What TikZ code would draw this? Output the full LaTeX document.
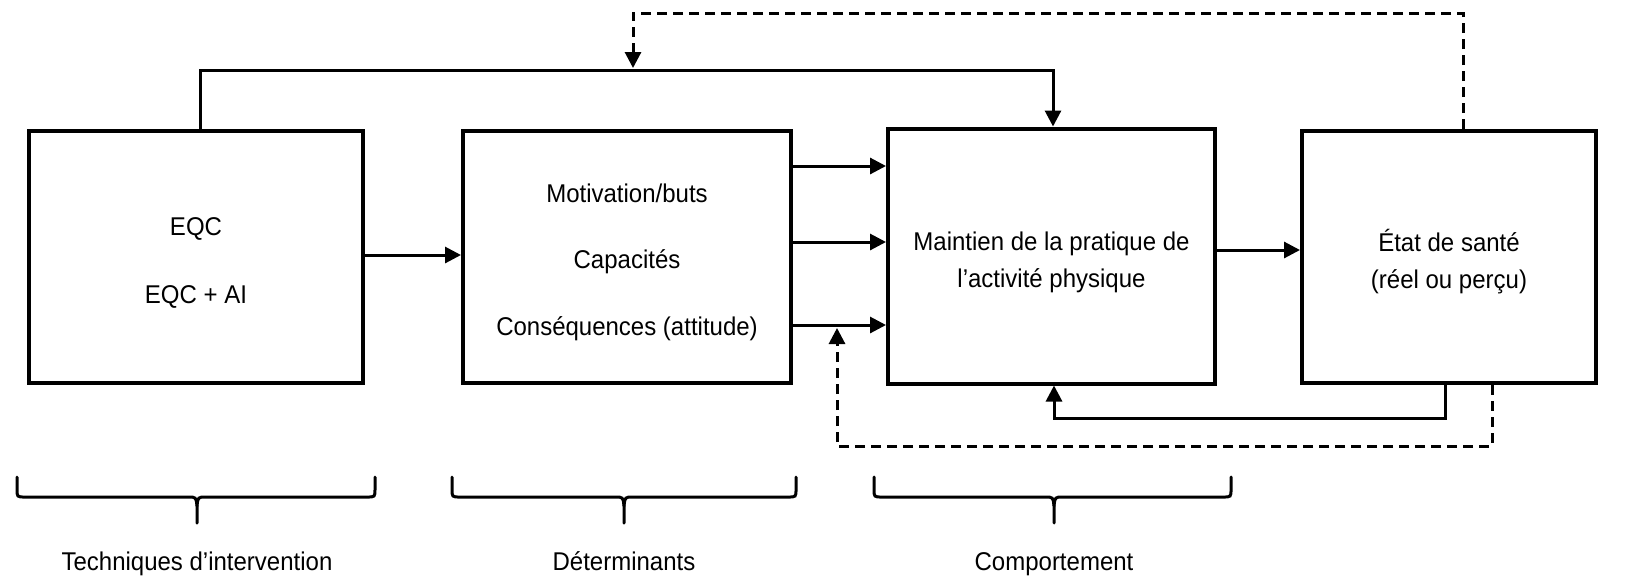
\documentclass[tikz,border=0pt]{standalone}
\usepackage{fontspec}
\usepackage{graphicx}
\setmainfont{Liberation Sans}
\usetikzlibrary{arrows.meta}
\newcommand{\vtext}[2]{\raisebox{#1}[\height][\depth]{\scalebox{1}[1.07]{\begin{tabular}{@{}c@{}}#2\end{tabular}}}}
\begin{document}
\begin{tikzpicture}[x=0.5pt,y=-0.5pt,
  box/.style={draw,line width=2pt,minimum height=126pt,inner sep=0pt,align=center,
    font=\fontsize{12}{19}\selectfont},
  conn/.style={line width=1.5pt,-{Triangle[length=8pt,width=8pt]}},
  dconn/.style={conn,dash pattern=on 5pt off 3pt},
  brace/.style={line width=1.5pt,line cap=round},
  lbl/.style={font=\fontsize{12}{14}\selectfont,inner sep=0pt}]
\useasboundingbox (0,0) rectangle (1625,580);
% boxes
\node[box,minimum width=167pt] (b1) at (196,257) {\vtext{-2.2pt}{EQC\\[12.5pt]EQC + AI}};
\node[box,minimum width=164pt] (b2) at (627,257) {\vtext{-1.8pt}{Motivation/buts\\[12pt]Capacités\\[12pt]Conséquences (attitude)}};
\node[box,minimum width=163.5pt,minimum height=127.5pt] (b3) at (1051.5,256) {\vtext{-2.5pt}{Maintien de la pratique de\\[-1.7pt]l’activité physique}};
\node[box,minimum width=147pt] (b4) at (1449,257) {\vtext{-2.5pt}{État de santé\\[-1.7pt](réel ou perçu)}};
% coordinates
\coordinate (t1) at (200,70);
\coordinate (t2) at (1053,70);
\coordinate (d1) at (1463,13);
\coordinate (d2) at (633,13);
\coordinate (d3) at (633,68);
\coordinate (s1) at (1445,418);
\coordinate (s2) at (1054,418);
\coordinate (e1) at (1492,446);
\coordinate (e2) at (837,446);
\coordinate (e3) at (837,328);
% connectors
\draw[conn] (b1.north -| t1) -- (t1) -- (t2) -- (b3.north -| t2);
\draw[dconn] (b4.north -| d1) -- (d1) -- (d2) -- (d3);
\draw[conn] (b1.east |- 0,255) -- (b2.west |- 0,255);
\draw[conn] (b2.east |- 0,166) -- (b3.west |- 0,166);
\draw[conn] (b2.east |- 0,242) -- (b3.west |- 0,242);
\draw[conn] (b2.east |- 0,325) -- (b3.west |- 0,325);
\draw[conn] (b3.east |- 0,250) -- (b4.west |- 0,250);
\draw[conn] (b4.south -| s1) -- (s1) -- (s2) -- (b3.south -| s2);
\draw[dconn] (b4.south -| e1) -- (e1) -- (e2) -- (e3);
% braces
\foreach \xa/\xb/\xm in {17/375/197, 452/796/624, 874/1231/1054}{
  \draw[brace] (\xa,477) -- (\xa,489) .. controls (\xa,497) .. (\xa+8,497) -- (\xm-9,497)
     .. controls (\xm-1,497) .. (\xm,506) -- (\xm,523);
  \draw[brace] (\xb,477) -- (\xb,489) .. controls (\xb,497) .. (\xb-8,497) -- (\xm+9,497)
     .. controls (\xm+1,497) .. (\xm,506);
}
% labels
\node[lbl] (l1) at (197,564) {\vtext{0pt}{Techniques d’intervention}};
\node[lbl] (l2) at (624,564) {\vtext{0pt}{Déterminants}};
\node[lbl] (l3) at (1054,564) {\vtext{0pt}{Comportement}};
\end{tikzpicture}
\end{document}
